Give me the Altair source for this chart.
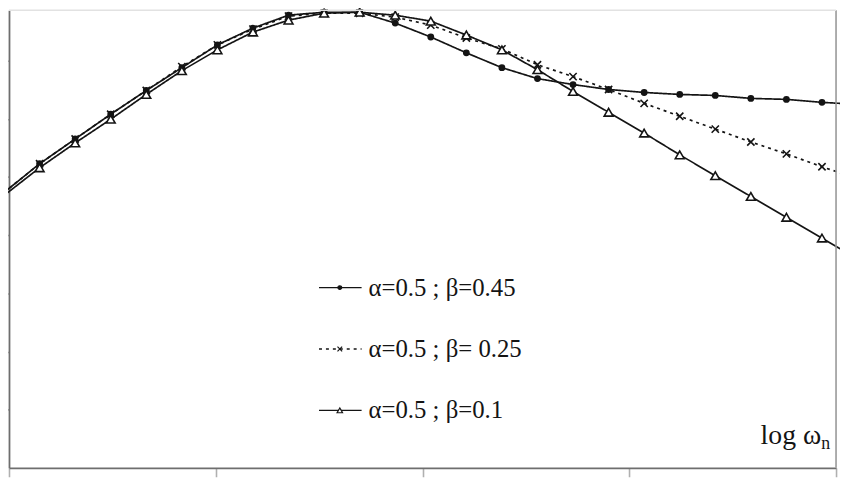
import altair as alt
import pandas as pd

# ---- data ----
labels = ["α=0.5 ; β=0.45", "α=0.5 ; β= 0.25", "α=0.5 ; β=0.1"]

x_log = [-0.024, 0.148, 0.320, 0.492, 0.664, 0.836, 1.008, 1.180, 1.352, 1.524,
         1.696, 1.868, 2.040, 2.212, 2.384, 2.556, 2.728, 2.900, 3.072, 3.244,
         3.416, 3.588, 3.760, 3.932, 4.104]

b45 = [4.732, 5.226, 5.651, 6.077, 6.485, 6.877, 7.268, 7.557, 7.779, 7.830,
       7.830, 7.643, 7.404, 7.132, 6.877, 6.689, 6.587, 6.502, 6.451, 6.417,
       6.400, 6.349, 6.332, 6.281, 6.247]
b25 = [4.732, 5.226, 5.651, 6.077, 6.485, 6.894, 7.268, 7.540, 7.762, 7.813,
       7.813, 7.745, 7.609, 7.387, 7.200, 6.928, 6.723, 6.502, 6.264, 6.043,
       5.821, 5.600, 5.396, 5.174, 4.970]
b10 = [4.681, 5.157, 5.583, 5.991, 6.417, 6.826, 7.183, 7.489, 7.694, 7.813,
       7.830, 7.779, 7.677, 7.438, 7.183, 6.843, 6.468, 6.111, 5.753, 5.379,
       5.021, 4.664, 4.306, 3.949, 3.591]

x_ticks = [0, 1, 2, 3, 4]
y_ticks = [1, 2, 3, 4, 5, 6, 7]
axis_title = ["log ω", "n"]

rows = []
for lab, ys in zip(labels, [b45, b25, b10]):
    for xv, yv in zip(x_log, ys):
        rows.append({"series": lab, "x": xv, "y": yv})
df = pd.DataFrame(rows)
legend_df = pd.DataFrame({"series": labels, "row": [0, 1, 2]})

W, H = 835, 462
INK = "#141414"
SERIF = "Liberation Serif"

x_enc = alt.X(
    "x:Q",
    scale=alt.Scale(domain=[0, 4], nice=False, zero=False),
    axis=alt.Axis(values=x_ticks, labels=False, title=None, grid=False,
                  domainColor="#6e6e6e", domainWidth=1.6,
                  tickColor="#b0b0b0", tickWidth=1.6, tickSize=9),
)
y_enc = alt.Y(
    "y:Q",
    scale=alt.Scale(domain=[0, 7.864], nice=False, zero=False),
    axis=alt.Axis(values=y_ticks, labels=False, title=None, grid=False,
                  domainColor="#6e6e6e", domainWidth=1.8,
                  tickColor="#b0b0b0", tickWidth=1.6, tickSize=8),
)

dash_scale = alt.Scale(domain=labels, range=[[1, 0], [3, 4], [1, 0]])
shape_scale = alt.Scale(domain=labels,
                        range=["circle", "M-1,-1L1,1M-1,1L1,-1", "triangle-up"])
fill_scale = alt.Scale(domain=labels, range=[INK, "white", "white"])

lines = alt.Chart(df).mark_line(color=INK, strokeWidth=1.7, clip=False).encode(
    x=x_enc, y=y_enc,
    strokeDash=alt.StrokeDash("series:N", scale=dash_scale, legend=None),
    detail="series:N",
)

points = alt.Chart(df).transform_filter(
    "datum.x >= 0 && datum.x <= 4"
).mark_point(stroke=INK, strokeWidth=1.6, opacity=1, clip=False).encode(
    x=x_enc, y=y_enc,
    shape=alt.Shape("series:N", scale=shape_scale, legend=None),
    fill=alt.Fill("series:N", scale=fill_scale, legend=None),
    size=alt.Size("series:N", scale=alt.Scale(domain=labels, range=[28, 80, 100]),
                  legend=None),
)

main = alt.layer(lines, points)

legend_y = alt.Y("row:Q", scale=alt.Scale(domain=[0, 2], range=[280, 404]), axis=None)

leg_rule = alt.Chart(legend_df).mark_rule(color=INK, strokeWidth=1.4).encode(
    x=alt.value(313), x2=alt.value(356), y=legend_y,
    strokeDash=alt.StrokeDash("series:N", scale=dash_scale, legend=None),
)
leg_pts = alt.Chart(legend_df).mark_point(stroke=INK, strokeWidth=1.2, opacity=1).encode(
    x=alt.value(334), y=legend_y,
    shape=alt.Shape("series:N", scale=shape_scale, legend=None),
    fill=alt.Fill("series:N", scale=fill_scale, legend=None),
    size=alt.Size("series:N", scale=alt.Scale(domain=labels, range=[14, 30, 40]),
                  legend=None),
)
leg_txt = alt.Chart(legend_df).mark_text(
    align="left", baseline="alphabetic", dy=8, font=SERIF, fontSize=25, color=INK
).encode(x=alt.value(363), y=legend_y, text="series:N")

legend = alt.layer(leg_rule, leg_pts, leg_txt)

frame_df = pd.DataFrame({"k": [0]})
right_border = alt.Chart(frame_df).mark_rule(color="#999999", strokeWidth=1.6).encode(
    x=alt.value(W), y=alt.value(0), y2=alt.value(H))
top_border = alt.Chart(frame_df).mark_rule(color="#e2e2e2", strokeWidth=1.5).encode(
    x=alt.value(0), x2=alt.value(W), y=alt.value(0))

title_df = pd.DataFrame({"t": [axis_title[0]]})
sub_df = pd.DataFrame({"t": [axis_title[1]]})
title_main = alt.Chart(title_df).mark_text(
    align="right", baseline="alphabetic", font=SERIF, fontSize=28, color=INK
).encode(x=alt.value(820), y=alt.value(438), text="t:N")
title_sub = alt.Chart(sub_df).mark_text(
    align="left", baseline="alphabetic", font=SERIF, fontSize=18, color=INK
).encode(x=alt.value(820), y=alt.value(443), text="t:N")

deco = alt.layer(right_border, top_border, title_main, title_sub)

chart = alt.layer(main, legend, deco).resolve_scale(
    y="independent", size="independent"
).properties(
    width=W, height=H,
    autosize=alt.AutoSizeParams(type="none"),
    padding={"left": 1, "top": 0, "right": 4, "bottom": 9},
    background="white",
).configure_view(stroke=None)

chart.save("out.html", embed_options={"renderer": "svg", "actions": False})
